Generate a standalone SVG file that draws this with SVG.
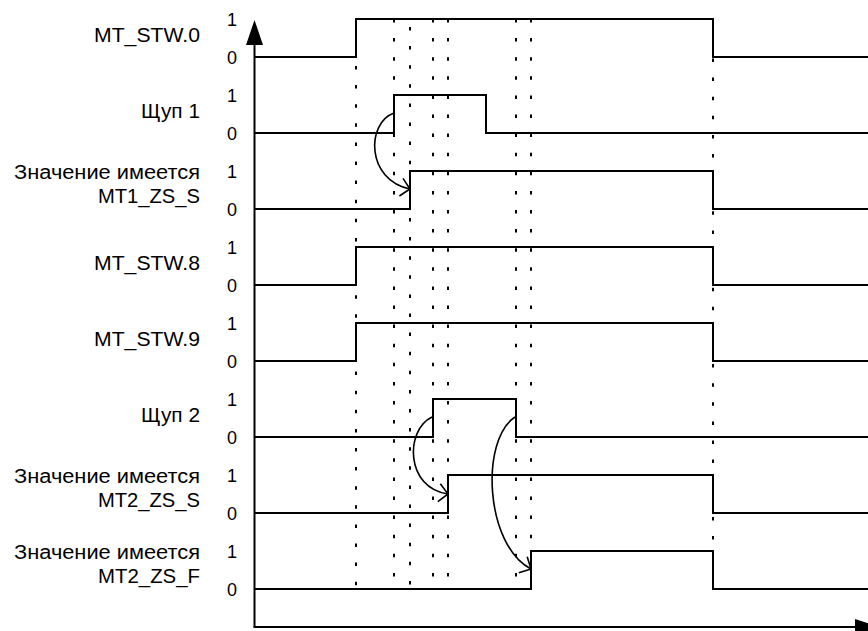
<svg xmlns="http://www.w3.org/2000/svg" width="868" height="631" viewBox="0 0 868 631">
<style>
.lbl{font-family:"Liberation Sans",Arial,sans-serif;font-size:20px;fill:#000;text-anchor:end}
.dig{font-family:"Liberation Sans",Arial,sans-serif;font-size:18px;fill:#000;text-anchor:middle}
.sig{fill:none;stroke:#000;stroke-width:2}
.dot{fill:none;stroke:#000;stroke-width:2;stroke-dasharray:3.5 15.6}
.arc{fill:none;stroke:#000;stroke-width:1.6;marker-end:url(#chev)}
.axis{fill:none;stroke:#000;stroke-width:2}
</style>
<defs>
<marker id="chev" markerUnits="userSpaceOnUse" markerWidth="24" markerHeight="24" viewBox="-12 -12 24 24" refX="0" refY="0" orient="auto">
<path d="M-9,-9 L0,0 L-9,9" fill="none" stroke="#000" stroke-width="1.6"/>
</marker>
</defs>
<rect width="868" height="631" fill="#fff"/>
<g id="gridlines">
<line class="dot" x1="356" y1="66" x2="356" y2="590"/>
<line class="dot" x1="394" y1="19" x2="394" y2="590"/>
<line class="dot" x1="410" y1="27" x2="410" y2="590"/>
<line class="dot" x1="433" y1="19" x2="433" y2="590"/>
<line class="dot" x1="448" y1="19" x2="448" y2="590"/>
<line class="dot" x1="516" y1="19" x2="516" y2="590"/>
<line class="dot" x1="531" y1="19" x2="531" y2="590"/>
<line class="dot" x1="713" y1="58.5" x2="713" y2="590"/>
</g>
<g id="axes">
<line class="axis" x1="254.5" y1="44" x2="254.5" y2="627"/>
<polygon points="254.5,20 246,45 263,45" fill="#000"/>
<line class="axis" x1="253.5" y1="627" x2="856" y2="627"/>
<polygon points="855,619 880,627 855,635" fill="#000"/>
</g>
<g id="row-mt-stw0">
<text class="lbl" x="200" y="42" textLength="106" lengthAdjust="spacingAndGlyphs">MT_STW.0</text>
<text class="dig" x="232" y="26">1</text><text class="dig" x="232" y="63.5">0</text>
<path class="sig" d="M254,57 H356 V19 H713 V57 H868"/>
</g>
<g id="row-probe1">
<text class="lbl" x="200" y="118" textLength="59" lengthAdjust="spacingAndGlyphs">Щуп 1</text>
<text class="dig" x="232" y="102">1</text><text class="dig" x="232" y="139.5">0</text>
<path class="sig" d="M254,133 H394 V95 H486 V133 H868"/>
</g>
<g id="row-mt1-zs-s">
<text class="lbl" x="200" y="179" textLength="186" lengthAdjust="spacingAndGlyphs">Значение имеется</text>
<text class="lbl" x="200" y="203" textLength="102" lengthAdjust="spacingAndGlyphs">MT1_ZS_S</text>
<text class="dig" x="232" y="178">1</text><text class="dig" x="232" y="215.5">0</text>
<path class="sig" d="M254,209 H410 V171 H713 V209 H868"/>
</g>
<g id="row-mt-stw8">
<text class="lbl" x="200" y="270" textLength="106" lengthAdjust="spacingAndGlyphs">MT_STW.8</text>
<text class="dig" x="232" y="254">1</text><text class="dig" x="232" y="291.5">0</text>
<path class="sig" d="M254,285 H356 V247 H713 V285 H868"/>
</g>
<g id="row-mt-stw9">
<text class="lbl" x="200" y="346" textLength="106" lengthAdjust="spacingAndGlyphs">MT_STW.9</text>
<text class="dig" x="232" y="330">1</text><text class="dig" x="232" y="367.5">0</text>
<path class="sig" d="M254,361 H356 V323 H713 V361 H868"/>
</g>
<g id="row-probe2">
<text class="lbl" x="200" y="422" textLength="59" lengthAdjust="spacingAndGlyphs">Щуп 2</text>
<text class="dig" x="232" y="406">1</text><text class="dig" x="232" y="443.5">0</text>
<path class="sig" d="M254,437 H433 V399 H516 V437 H868"/>
</g>
<g id="row-mt2-zs-s">
<text class="lbl" x="200" y="483" textLength="186" lengthAdjust="spacingAndGlyphs">Значение имеется</text>
<text class="lbl" x="200" y="507" textLength="102" lengthAdjust="spacingAndGlyphs">MT2_ZS_S</text>
<text class="dig" x="232" y="482">1</text><text class="dig" x="232" y="519.5">0</text>
<path class="sig" d="M254,513 H448 V475 H713 V513 H868"/>
</g>
<g id="row-mt2-zs-f">
<text class="lbl" x="200" y="559" textLength="186" lengthAdjust="spacingAndGlyphs">Значение имеется</text>
<text class="lbl" x="200" y="583" textLength="102" lengthAdjust="spacingAndGlyphs">MT2_ZS_F</text>
<text class="dig" x="232" y="558">1</text><text class="dig" x="232" y="595.5">0</text>
<path class="sig" d="M254,589 H531 V551 H713 V589 H868"/>
</g>
<g id="connectors">
<path class="arc" d="M394,113 C366,123 366,180 410,189"/>
<path class="arc" d="M432,417 C405,430 405,488 448,494"/>
<path class="arc" d="M515,417 C480,440 485,545 531,569"/>
</g>
</svg>
